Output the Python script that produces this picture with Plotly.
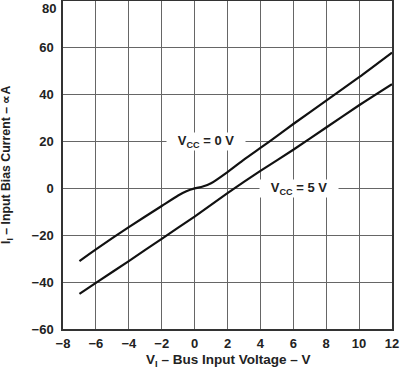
import plotly.graph_objects as go

# Data
vi_vcc0 = [-7, -6, -4, -2, -1, -0.5, 0, 0.5, 1, 2, 3, 4, 5, 6, 8, 10, 12]
ii_vcc0 = [-31, -26, -16.5, -7.5, -3, -1.2, 0, 0.8, 2.2, 7, 12.3, 17.3, 22.3, 27.5, 37.5, 47.5, 58]

vi_vcc5 = [-7, -6, -4, -2, 0, 2, 4, 6, 8, 10, 12]
ii_vcc5 = [-45, -40.3, -31, -21.5, -12, -2, 7.5, 16.5, 26, 35.5, 44.5]

x_ticks = [-8, -6, -4, -2, 0, 2, 4, 6, 8, 10, 12]
y_ticks = [-60, -40, -20, 0, 20, 40, 60, 80]
y_tick_text = ["−60", "−40", "−20", "0", "20", "40", "60", ""]

FONT = "Liberation Sans, Arial, sans-serif"
TF = dict(family=FONT, size=13, color="#222", weight="bold")
LF = dict(family=FONT, size=13.5, color="#222", weight="bold")
YF = dict(family=FONT, size=12.3, color="#222", weight="bold")

fig = go.Figure()
fig.add_trace(go.Scatter(x=vi_vcc0, y=ii_vcc0, mode="lines", line=dict(color="#111", width=2.2, shape="spline", smoothing=0.6), showlegend=False))
fig.add_trace(go.Scatter(x=vi_vcc5, y=ii_vcc5, mode="lines", line=dict(color="#111", width=2.2, shape="spline", smoothing=0.6), showlegend=False))

fig.update_layout(
    width=404, height=370,
    margin=dict(l=63, r=12, t=1, b=41, autoexpand=False),
    paper_bgcolor="white", plot_bgcolor="white",
    font=dict(family=FONT, size=13, color="#222"),
    xaxis=dict(range=[-8, 12], tickvals=x_ticks, showgrid=True, gridcolor="#666", gridwidth=1,
               zeroline=False, showline=True, linecolor="#333", linewidth=1.5, mirror=True,
               ticks="", ticklabelstandoff=2, tickfont=TF, fixedrange=True, automargin=False),
    yaxis=dict(range=[-60, 80], tickvals=y_ticks, ticktext=y_tick_text, showgrid=True, gridcolor="#666", gridwidth=1,
               zeroline=False, showline=True, linecolor="#333", linewidth=1.5, mirror=True,
               ticks="", ticklabelstandoff=5, tickfont=TF, fixedrange=True, automargin=False),
    annotations=[
        dict(x=0, y=y_ticks[-1], xref="paper", yref="y", xanchor="right", yanchor="top", xshift=-5, yshift=2,
             text=str(y_ticks[-1]), showarrow=False, font=TF),
        dict(x=0.72, y=20, xref="x", yref="y", text="V<sub>CC</sub> = 0 V", showarrow=False,
             bgcolor="white", width=76, height=15, font=TF),
        dict(x=6.32, y=0, xref="x", yref="y", text="V<sub>CC</sub> = 5 V", showarrow=False,
             bgcolor="white", width=76, height=15, font=TF),
        dict(x=0.5, y=0, xref="paper", yref="paper", yshift=-31, yanchor="middle",
             text="V<sub>I</sub> – Bus Input Voltage – V", showarrow=False, font=LF),
        dict(x=0, y=0.5, xref="paper", yref="paper", xshift=-56, yshift=0, xanchor="center",
             text="I<sub>I</sub> – Input Bias Current – ∝A", textangle=-90, showarrow=False, font=YF),
    ],
)

fig.write_html("out.html", config={"displayModeBar": False},
               post_script="document.body.style.margin='0';document.body.style.overflow='hidden';")
